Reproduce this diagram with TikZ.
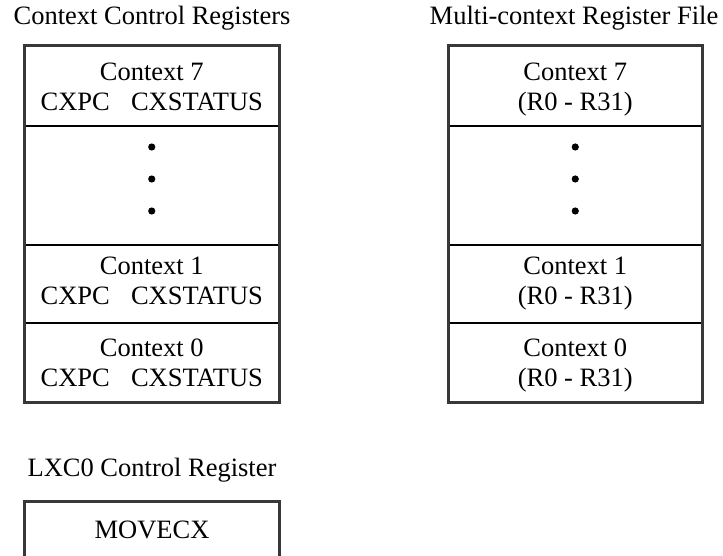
\documentclass[tikz,border=0pt]{standalone}
\usepackage{fontspec}
\setmainfont{Liberation Serif}
\usepackage{tikz}

\begin{document}
\begin{tikzpicture}[x=1pt,y=-1pt,
  every node/.style={font=\fontsize{26.5}{30}\selectfont, inner sep=0pt},
  frame/.style={draw=black!78, line width=3pt},
  divider/.style={draw=black, line width=2.8pt}]

\useasboundingbox (0,0) rectangle (723,556);

% ===================== Left stack: control registers =====================
\begin{scope}[shift={(0,0)}]
  \node (ccrtitle) at (152,18) {Context Control Registers};
  \draw[frame] (24.5,45.5) rectangle (279,402);
  \foreach \y in {126,245,323}{
    \draw[divider] (26,\y) -- (277.5,\y);
  }
  \node[align=center] (ccr7) at (151.75,87) {Context 7\\CXPC\hspace{0.8em}CXSTATUS};
  \foreach \y/\n in {147/a,179/b,211/c}{
    \fill (151.75,\y) circle (3.6) coordinate (ccrdot\n);
  }
  \node[align=center] (ccr1) at (151.75,281) {Context 1\\CXPC\hspace{0.8em}CXSTATUS};
  \node[align=center] (ccr0) at (151.75,363) {Context 0\\CXPC\hspace{0.8em}CXSTATUS};
\end{scope}

% ===================== Right stack: register file =====================
\begin{scope}[shift={(423.5,0)}]
  \node (rftitle) at (150.5,18) {Multi-context Register File};
  \draw[frame] (24.5,45.5) rectangle (279,402);
  \foreach \y in {126,245,323}{
    \draw[divider] (26,\y) -- (277.5,\y);
  }
  \node[align=center] (rf7) at (151.75,89.5) {Context 7\\(R0 - R31)};
  \foreach \y/\n in {147/a,179/b,211/c}{
    \fill (151.75,\y) circle (3.6) coordinate (rfdot\n);
  }
  \node[align=center] (rf1) at (151.75,283.5) {Context 1\\(R0 - R31)};
  \node[align=center] (rf0) at (151.75,365.5) {Context 0\\(R0 - R31)};
\end{scope}

% ===================== Bottom: LXC0 register (cut at page edge) =====================
\node (lxctitle) at (152,470) {LXC0 Control Register};
\draw[frame] (24.5,556) -- (24.5,501.5) -- (279,501.5) -- (279,556);
\node (movecx) at (152,530) {MOVECX};

\end{tikzpicture}
\end{document}
